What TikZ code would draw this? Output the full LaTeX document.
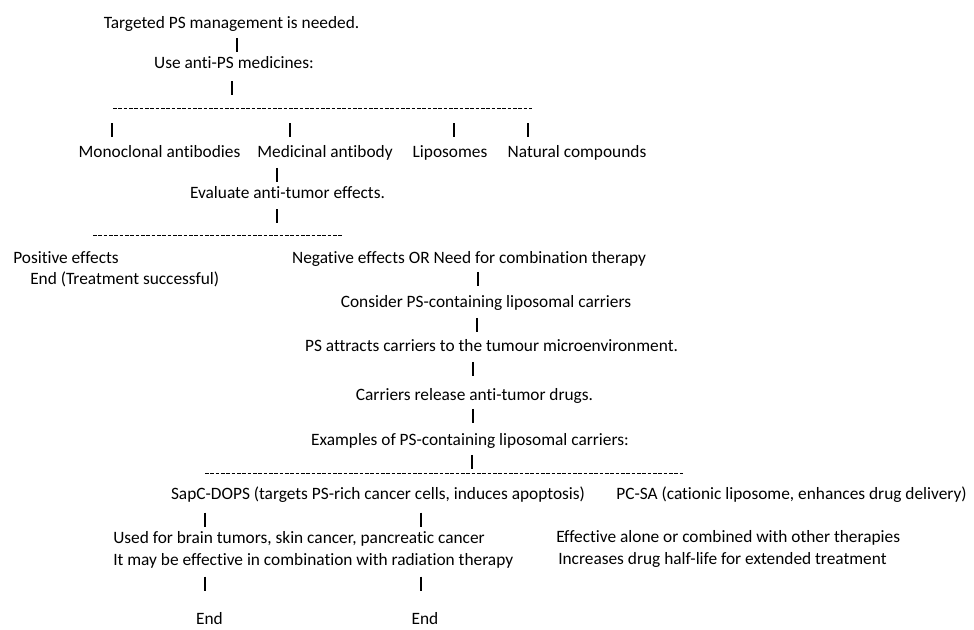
\documentclass[tikz,border=0pt]{standalone}
\usepackage{fontspec}
\setmainfont[Ligatures={NoCommon,NoRequired,NoContextual}]{Carlito}
\tikzset{
	txt/.style={inner sep=0pt, text height=.86em, text depth=0pt, font=\fontsize{13}{16}\selectfont},
	bar/.style={line width=.8pt},
	rule/.style={line width=.6pt, dash pattern=on 2.7pt off 1.3pt}
}
\begin{document}
\begin{tikzpicture}[x=.75pt, y=-.75pt]
	\useasboundingbox (0,0) rectangle (974,630);
	
	% Top part: medicines
	\node[txt] (target) at (231.5,23) {Targeted PS management is needed.};
	\node[txt] (use) at (234,63) {Use anti-PS medicines:};
	\node[txt] (mono) at (159.5,152) {Monoclonal antibodies};
	\node[txt] (medab) at (325,152) {Medicinal antibody};
	\node[txt] (lipo) at (450,152) {Liposomes};
	\node[txt] (natural) at (577,152) {Natural compounds};
	\node[txt] (evaluate) at (287.5,193) {Evaluate anti-tumor effects.};
	
	% Outcome of the evaluation
	\node[txt, anchor=west] (positive) at (13,258) {Positive effects};
	\node[txt, anchor=west] (endok) at (30,279) {End (Treatment successful)};
	\node[txt] (negative) at (469,258) {Negative effects OR Need for combination therapy};
	\node[txt] (consider) at (486,302) {Consider PS-containing liposomal carriers};
	\node[txt] (attracts) at (491.5,346) {PS attracts carriers to the tumour microenvironment.};
	\node[txt] (release) at (474.5,395) {Carriers release anti-tumor drugs.};
	\node[txt] (examples) at (470,440) {Examples of PS-containing liposomal carriers:};
	
	% Carriers
	\node[txt] (sapc) at (378,494) {SapC-DOPS (targets PS-rich cancer cells, induces apoptosis)};
	\node[txt] (pcsa) at (791.5,494) {PC-SA (cationic liposome, enhances drug delivery)};
	\node[txt, anchor=west] (used) at (113,538) {Used for brain tumors, skin cancer, pancreatic cancer};
	\node[txt, anchor=west] (radiation) at (113,560) {It may be effective in combination with radiation therapy};
	\node[txt, anchor=west] (effective) at (556,537) {Effective alone or combined with other therapies};
	\node[txt, anchor=west] (halflife) at (558,559) {Increases drug half-life for extended treatment};
	\node[txt] (endA) at (209.5,619) {End};
	\node[txt] (endB) at (425,619) {End};
	
	% Vertical bars
	\foreach \x/\y [count=\k] in {237/45, 232/88.5, 112/130.5, 290/130.5, 454/130.5, 528/130.5,
		277/175, 277/216.5, 478/279, 477/325, 473/369, 473/416, 472/462,
		205/519.5, 421/519.5, 205/583.5, 421/583.5} {
		\coordinate (bar\k-top) at (\x,\y-7);
		\coordinate (bar\k-bot) at (\x,\y+7);
		\draw[bar] (bar\k-top) -- (bar\k-bot);
	}
	
	% Dashed rules
	\foreach \xa/\xb/\y [count=\k] in {113/532/108, 93/343/235, 205/683/473} {
		\coordinate (rule\k-l) at (\xa,\y);
		\coordinate (rule\k-r) at (\xb,\y);
		\draw[rule] (rule\k-l) -- (rule\k-r);
	}
\end{tikzpicture}
\end{document}
